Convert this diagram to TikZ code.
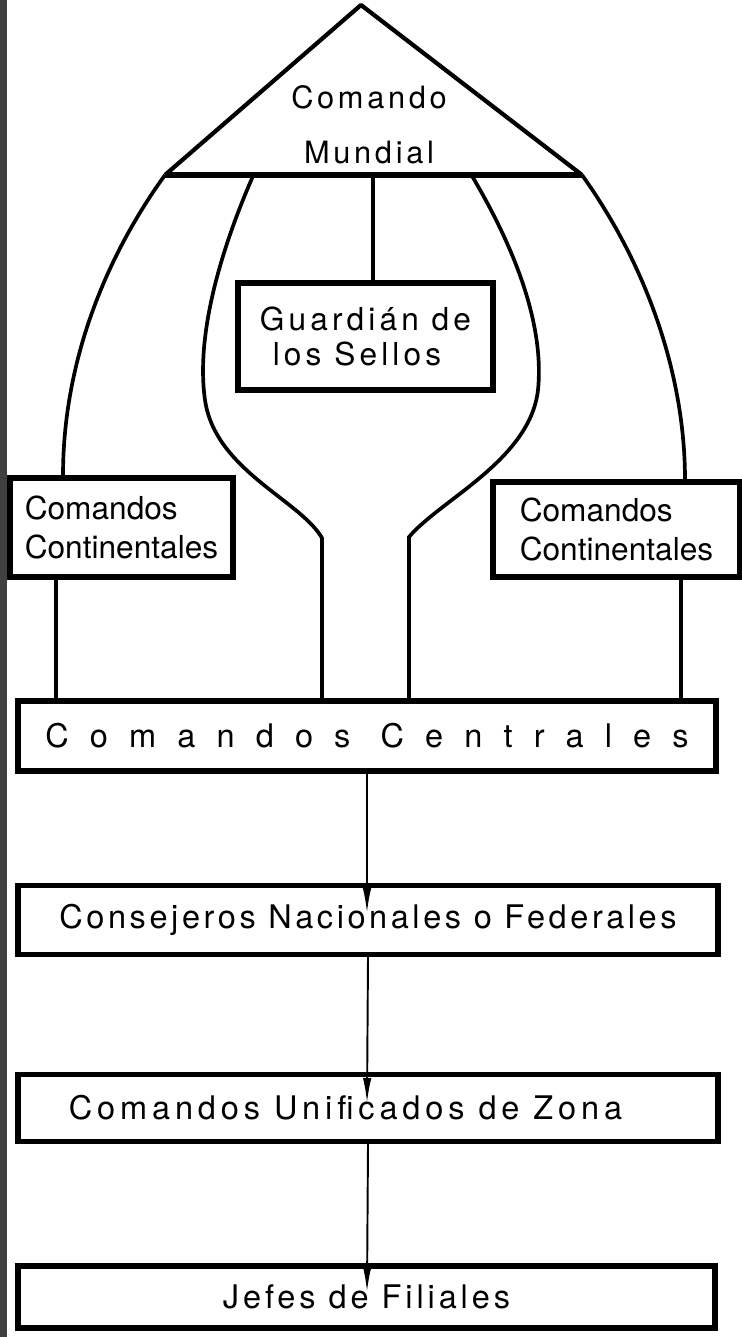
\documentclass[tikz,border=0pt]{standalone}
\usepackage{fontspec}
\setmainfont{TeX Gyre Heros}
\usetikzlibrary{arrows.meta}

\begin{document}
\begin{tikzpicture}[x=0.02cm,y=-0.02cm,
  box/.style={draw,line width=3pt,inner sep=0pt,font=\fontsize{18.5}{21.5}\selectfont},
  link/.style={line width=2.1pt},
  arr/.style={line width=1.1pt,-{Latex[length=5mm,width=1.7mm]}}]

\useasboundingbox (0,0) rectangle (742,1337);
\fill[black!75] (0,0) rectangle (7,1337);

% top triangle
\coordinate (t0) at (361,5);
\coordinate (t1) at (165,175);
\coordinate (t2) at (582,175);
\draw[line width=2.4pt,line join=round] (t1) -- (t0) -- (t2);
\draw[line width=3pt] (t1) -- (t2);
\node (v1) at (369,125) [align=center,font=\fontsize{17.5}{31.5}\selectfont\addfontfeatures{LetterSpace=12}] {Comando\\Mundial};

\node (v2) at (365.5,336.5) [box,minimum width=5.1cm,minimum height=2.14cm,align=left,font=\fontsize{18}{20}\selectfont\addfontfeatures{LetterSpace=13}] {Guardián de\\\ los Sellos};
\node (v3) at (121.5,527.5) [box,minimum width=4.46cm,minimum height=1.98cm,align=left,font=\fontsize{18}{22}\selectfont] {Comandos\\Continentales};
\node (v4) at (616.5,529.5) [box,minimum width=4.94cm,minimum height=1.9cm,align=left,font=\fontsize{18}{22}\selectfont] {Comandos\\Continentales};
\node (v5) at (367,736) [box,minimum width=13.96cm,minimum height=1.4cm] {\addfontfeatures{LetterSpace=65}Comandos Centrales};
\node (v6) at (368,920) [box,minimum width=14cm,minimum height=1.38cm] {\addfontfeatures{LetterSpace=11}Consejeros Nacionales o Federales};
\node (v7) at (368,1108) [box,minimum width=14cm,minimum height=1.34cm] {\addfontfeatures{LetterSpace=15}Comandos Unificados de Zona\hspace*{0.9cm}};
\node (v8) at (366.5,1297) [box,minimum width=13.94cm,minimum height=1.24cm] {\addfontfeatures{LetterSpace=12}Jefes de Filiales};

\coordinate (m1) at (253,176);
\coordinate (m2) at (373,176);
\coordinate (m3) at (472,176);
\coordinate (k1) at (322,538);
\coordinate (k2) at (409,537);

\draw[link] (t1) .. controls (100,265) and (63,370) .. ([xshift=-1.17cm]v3.north);
\draw[link] (t2) .. controls (650,270) and (685,380) .. ([xshift=1.37cm]v4.north);
\draw[link] (m2) -- (m2 |- v2.north);
\draw[link] (m1) .. controls (225,240) and (195,330) .. (205,400) .. controls (215,470) and (300,500) .. (k1) -- (k1 |- v5.north);
\draw[link] (m3) .. controls (510,240) and (545,320) .. (538,390) .. controls (530,460) and (440,500) .. (k2) -- (k2 |- v5.north);
\draw[link] ([xshift=-1.31cm]v3.south) -- ([xshift=-1.31cm]v3.south |- v5.north);
\draw[link] ([xshift=1.29cm]v4.south) -- ([xshift=1.29cm]v4.south |- v5.north);

\coordinate (a1) at (367,913);
\coordinate (a2) at (367,1103);
\coordinate (a3) at (367,1292);
\draw[arr] (v5.south) -- (a1);
\draw[arr] (v6.south) -- (a2);
\draw[arr] (v7.south) -- (a3);
\end{tikzpicture}
\end{document}
